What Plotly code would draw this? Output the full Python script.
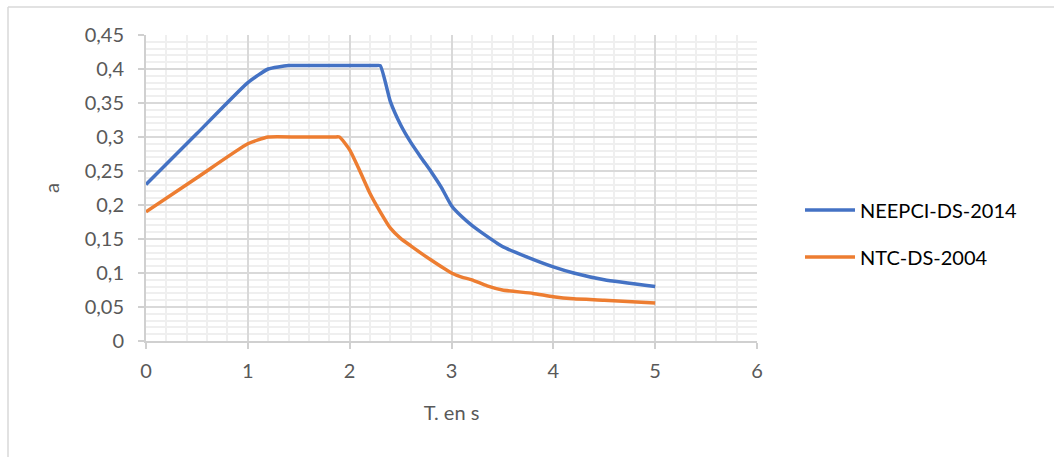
import plotly.graph_objects as go

t_neepci = [0, 0.5, 1, 1.2, 1.4, 1.7, 2.0, 2.25, 2.3, 2.4, 2.5, 2.6, 2.7, 2.8, 2.9, 3.0, 3.1, 3.2, 3.3, 3.5, 3.75, 4.0, 4.2, 4.5, 5.0]
a_neepci = [0.23, 0.305, 0.38, 0.40, 0.405, 0.405, 0.405, 0.405, 0.405, 0.352, 0.318, 0.292, 0.270, 0.249, 0.226, 0.199, 0.183, 0.170, 0.159, 0.139, 0.123, 0.109, 0.100, 0.090, 0.080]

t_ntc = [0, 0.5, 1, 1.2, 1.5, 1.85, 1.9, 2.0, 2.1, 2.2, 2.3, 2.4, 2.5, 2.6, 2.8, 3.0, 3.1, 3.2, 3.35, 3.5, 3.8, 4.0, 4.2, 4.5, 5.0]
a_ntc = [0.19, 0.24, 0.29, 0.30, 0.30, 0.30, 0.30, 0.281, 0.250, 0.217, 0.190, 0.166, 0.151, 0.140, 0.119, 0.100, 0.094, 0.090, 0.081, 0.075, 0.070, 0.065, 0.062, 0.060, 0.056]

names = ["NEEPCI-DS-2014", "NTC-DS-2004"]
colors = ["#4472C4", "#ED7D31"]

W, H = 1054, 457
L, R, T, B = 146, 297, 35, 116
pw, ph = W - L - R, H - T - B

def px2x(px):
    return (px - L) / pw

def py2y(py):
    return (H - B - py) / ph

fig = go.Figure()
fig.add_trace(go.Scatter(x=t_neepci, y=a_neepci, mode="lines", name=names[0],
                         line=dict(color=colors[0], width=3.5, shape="spline", smoothing=0.5),
                         legend="legend"))
fig.add_trace(go.Scatter(x=t_ntc, y=a_ntc, mode="lines", name=names[1],
                         line=dict(color=colors[1], width=3.5, shape="spline", smoothing=0.5),
                         legend="legend2"))

font = "Lato, 'Open Sans', sans-serif"
tick_font = dict(family=font, size=20, color="#595959")

fig.update_layout(
    width=W, height=H,
    margin=dict(l=L, r=R, t=T, b=B, pad=0),
    paper_bgcolor="white", plot_bgcolor="white",
    separators=", ",
    showlegend=True,
    legend=dict(x=px2x(800), y=py2y(210), xanchor="left", yanchor="middle",
                font=dict(family=font, size=20, color="#000000"),
                bgcolor="rgba(0,0,0,0)", itemwidth=50),
    legend2=dict(x=px2x(800), y=py2y(257), xanchor="left", yanchor="middle",
                 font=dict(family=font, size=20, color="#000000"),
                 bgcolor="rgba(0,0,0,0)", itemwidth=50),
    xaxis=dict(range=[0, 6], dtick=1, tick0=0, showgrid=True, gridcolor="#d9d9d9", gridwidth=1.5,
               minor=dict(dtick=0.2, showgrid=True, gridcolor="#efefef", gridwidth=1.5),
               showline=True, linecolor="#d0d0d0", linewidth=2,
               ticks="outside", ticklen=6, tickcolor="#d0d0d0", tickwidth=2,
               tickfont=tick_font, zeroline=False, automargin=False, ticklabelstandoff=5,
               title=dict(text="T. en s", font=dict(family=font, size=20, color="#595959"), standoff=25)),
    yaxis=dict(range=[0, 0.45], dtick=0.05, tick0=0, showgrid=True, gridcolor="#d9d9d9", gridwidth=1.5,
               minor=dict(dtick=0.01, showgrid=True, gridcolor="#efefef", gridwidth=1.5),
               showline=True, linecolor="#d0d0d0", linewidth=2,
               ticks="outside", ticklen=6, tickcolor="#d0d0d0", tickwidth=2,
               tickfont=tick_font, zeroline=False, automargin=False, ticklabelstandoff=10,
               title=dict(text="a", font=dict(family=font, size=20, color="#595959"), standoff=20)),
    shapes=[
        dict(type="line", xref="paper", yref="paper", x0=px2x(8), x1=px2x(8), y0=py2y(460), y1=py2y(7),
             line=dict(color="#d9d9d9", width=1.5)),
        dict(type="line", xref="paper", yref="paper", x0=px2x(8), x1=px2x(1060), y0=py2y(7), y1=py2y(7),
             line=dict(color="#d9d9d9", width=1.5)),
    ],
)

fig.write_html("out.html", config={"displayModeBar": False},
               post_script="document.body.style.margin='0';")
